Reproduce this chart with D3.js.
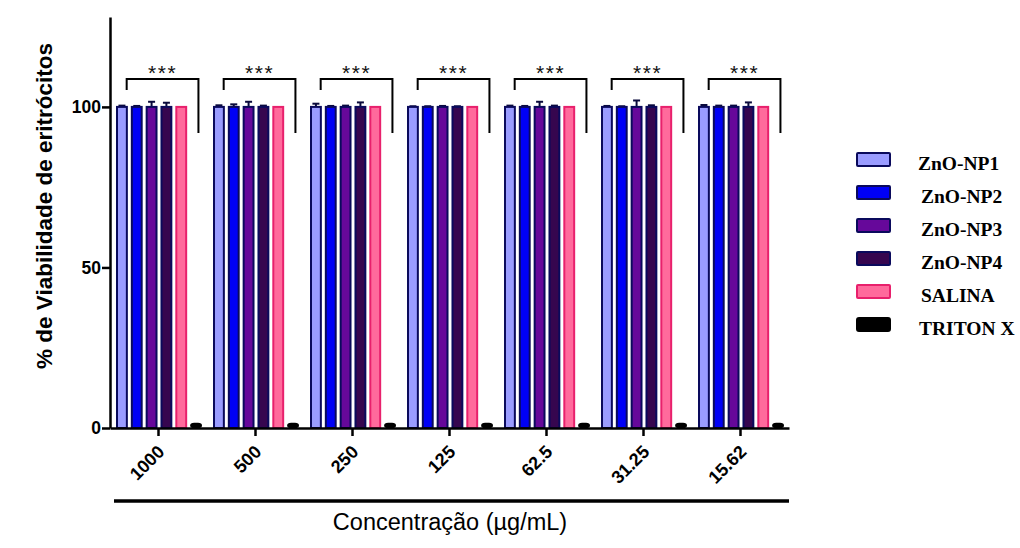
<!DOCTYPE html>
<html><head><meta charset="utf-8">
<script src="https://cdn.jsdelivr.net/npm/d3@7"></script>
<style>body{margin:0;background:#fff}svg{display:block}</style>
</head><body>
<svg id="c" width="1020" height="548"></svg>
<script>
const categories = ["1000","500","250","125","62.5","31.25","15.62"];
const seriesNames = ["ZnO-NP1","ZnO-NP2","ZnO-NP3","ZnO-NP4","SALINA","TRITON X"];
const np1 = [100,100,100,100,100,100,100];
const np2 = [100,100,100,100,100,100,100];
const np3 = [100,100,100,100,100,100,100];
const np4 = [100,100,100,100,100,100,100];
const salina = [100,100,100,100,100,100,100];
const triton = [1.0,1.0,1.0,1.0,1.0,1.0,1.0];
const errNP1 = [0.4,0.5,1.0,0.2,0.4,0.3,0.6];
const errNP2 = [0.3,0.8,0.3,0.2,0.3,0.2,0.4];
const errNP3 = [1.6,1.6,0.4,0.3,1.6,2.0,0.4];
const errNP4 = [1.3,0.4,1.4,0.2,0.4,0.5,1.4];
const errSal = [0,0,0,0,0,0,0];
const errTri = [0,0,0,0,0,0,0];
const yTicks = [0,50,100];
const significance = ["***","***","***","***","***","***","***"];

const values = [np1,np2,np3,np4,salina,triton];
const errors = [errNP1,errNP2,errNP3,errNP4,errSal,errTri];
const fills = ["#9a9cff","#0000f5","#66089a","#36064f","#ff6a9c","#000000"];
const strokes = ["#0a0a5c","#0a0a5c","#0a0a5c","#0a0a5c","#e8206c","#000000"];

const svg = d3.select("#c");
const x0 = d3.scaleBand().domain(categories).range([110,789]).padding(0);
const x1 = d3.scaleBand().domain(seriesNames).range([6,92]).paddingInner(0.2).paddingOuter(0);
const y = d3.scaleLinear().domain([0,128]).range([428,17]);
const fontSans = "Liberation Sans, Arial, sans-serif";

// bars
const groups = svg.append("g").selectAll("g").data(categories).join("g")
  .attr("transform", d => `translate(${x0(d)},0)`);
groups.each(function(cat, ci){
  const g = d3.select(this);
  seriesNames.forEach((s, si) => {
    const v = values[si][ci], e = errors[si][ci];
    const bx = x1(s), bw = x1.bandwidth();
    if (si === 5) {
      g.append("rect").attr("x", bx).attr("y", y(v)-2).attr("width", bw)
        .attr("height", y(0)-y(v)+2).attr("rx", 4).attr("fill", "#000");
      return;
    }
    if (e > 0) {
      const cx = bx + bw/2;
      g.append("line").attr("x1", cx).attr("x2", cx).attr("y1", y(v)).attr("y2", y(v+e))
        .attr("stroke", "#0a0a3c").attr("stroke-width", 2);
      g.append("line").attr("x1", cx-3.5).attr("x2", cx+3.5).attr("y1", y(v+e)).attr("y2", y(v+e))
        .attr("stroke", "#0a0a3c").attr("stroke-width", 2);
    }
    g.append("rect").attr("x", bx+1).attr("y", y(v)).attr("width", bw-2)
      .attr("height", y(0)-y(v)).attr("fill", fills[si])
      .attr("stroke", strokes[si]).attr("stroke-width", 2);
  });
  // bracket
  const lx = x1(seriesNames[0]) + x1.bandwidth()*0.9;
  const rx = x1(seriesNames[5]) + x1.bandwidth()*0.7;
  g.append("path").attr("d", `M${lx},${y(105.3)}V${y(108.7)}H${rx}V${y(91.9)}`)
    .attr("fill","none").attr("stroke","#000").attr("stroke-width",2);
  g.append("text").attr("x", (lx+rx)/2).attr("y", y(108.7)+1).attr("text-anchor","middle")
    .attr("font-family",fontSans).attr("font-size",21).attr("letter-spacing",1.5)
    .attr("fill","#111").text(significance[ci]);
});

// axes
const yAxis = svg.append("g").attr("transform","translate(110,0)")
  .call(d3.axisLeft(y).tickValues(yTicks).tickSize(8).tickSizeOuter(0));
yAxis.select(".domain").attr("stroke","#000").attr("stroke-width",2.5);
yAxis.selectAll(".tick line").attr("stroke","#000").attr("stroke-width",2.5);
yAxis.selectAll(".tick text").attr("font-family",fontSans).attr("font-size",17.5)
  .attr("font-weight","bold").attr("fill","#000").attr("x",-9);

const xAxis = svg.append("g").attr("transform","translate(0,428)")
  .call(d3.axisBottom(x0).tickSize(8).tickSizeOuter(0));
xAxis.select(".domain").attr("stroke","#000").attr("stroke-width",2.5);
xAxis.selectAll(".tick line").attr("stroke","#000").attr("stroke-width",2.5);
xAxis.selectAll(".tick text").attr("font-family",fontSans).attr("font-size",18)
  .attr("font-weight","bold").attr("fill","#000")
  .attr("text-anchor","end").attr("dy",0).attr("y",0)
  .attr("transform","translate(7,25) rotate(-45)");

svg.append("line").attr("x1",114).attr("x2",789).attr("y1",501).attr("y2",501)
  .attr("stroke","#000").attr("stroke-width",3.5);
svg.append("text").attr("x",450).attr("y",530).attr("text-anchor","middle")
  .attr("font-family",fontSans).attr("font-size",23.5).attr("fill","#000")
  .text("Concentração (µg/mL)");
svg.append("text").attr("transform","translate(52,206) rotate(-90)").attr("text-anchor","middle")
  .attr("font-family",fontSans).attr("font-size",22.5).attr("font-weight","bold").attr("fill","#000")
  .text("% de Viabilidade de eritrócitos");

// legend
const leg = svg.append("g");
seriesNames.forEach((s,i)=>{
  const yy = 153 + i*33;
  leg.append("rect").attr("x",857).attr("y",yy).attr("width",33).attr("height",13)
    .attr("rx", i===5?2:1)
    .attr("fill",fills[i]).attr("stroke", i===5?"#000":(i===4?"#e8206c":"#0a0a5c")).attr("stroke-width",2);
  leg.append("text").attr("x", i===0?918:(i===5?919:921)).attr("y",yy+17)
    .attr("font-family","Liberation Serif, Times New Roman, serif").attr("font-size",19.5)
    .attr("font-weight","bold").attr("fill","#000").text(s);
});
</script>
</body></html>
